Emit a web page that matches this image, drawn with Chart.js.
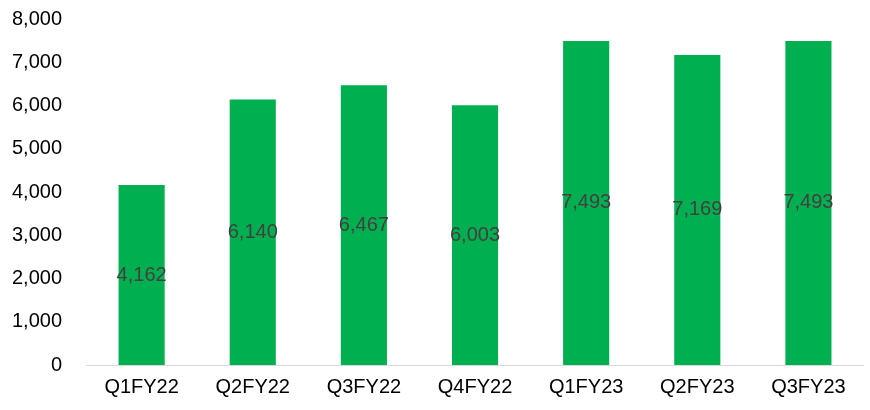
<!DOCTYPE html>
<html>
<head>
<meta charset="utf-8">
<script src="https://cdn.jsdelivr.net/npm/chart.js@4/dist/chart.umd.min.js"></script>
<style>
  html, body { margin: 0; padding: 0; background: #fff; overflow: hidden; }
  #page { width: 870px; height: 410px; position: relative; overflow: hidden; }
  #wrap { position: absolute; left: -12px; top: -17px; width: 876px; height: 426px; }
</style>
</head>
<body>
<div id="page"><div id="wrap"><canvas id="myChart"></canvas></div></div>
<script>
const quarters = ['Q1FY22', 'Q2FY22', 'Q3FY22', 'Q4FY22', 'Q1FY23', 'Q2FY23', 'Q3FY23'];
const values = [4162, 6140, 6467, 6003, 7493, 7169, 7493];
const yTicks = [0, 1000, 2000, 3000, 4000, 5000, 6000, 7000, 8000];

const fmt = v => v.toLocaleString('en-US');

// draw value labels in the middle of each bar
const midLabels = {
    id: 'midLabels',
    afterDatasetsDraw(chart) {
        const c = chart.ctx;
        const meta = chart.getDatasetMeta(0);
        c.save();
        c.font = '20px "Liberation Sans", Arial, sans-serif';
        c.fillStyle = '#404040';
        c.textAlign = 'center';
        c.textBaseline = 'middle';
        meta.data.forEach((bar, i) => {
            c.fillText(fmt(values[i]), bar.x, (bar.y + bar.base) / 2);
        });
        c.restore();
    }
};

const ctx = document.getElementById('myChart').getContext('2d');

const myChart = new Chart(ctx, {
    type: 'bar',
    data: {
        labels: quarters,
        datasets: [{
            data: values,
            backgroundColor: '#00B050',
            categoryPercentage: 1,
            barPercentage: 0.415
        }]
    },
    options: {
        responsive: true,
        maintainAspectRatio: false,
        animation: false,
        layout: { padding: 0 },
        plugins: {
            legend: { display: false },
            tooltip: { enabled: false }
        },
        scales: {
            x: {
                grid: { display: false, drawTicks: false },
                border: { display: true, color: '#d9d9d9', width: 1 },
                ticks: {
                    color: '#000',
                    padding: 10,
                    font: { family: '"Liberation Sans", Arial, sans-serif', size: 20 }
                }
            },
            y: {
                min: 0,
                max: 8000,
                afterBuildTicks: axis => { axis.ticks = yTicks.map(v => ({ value: v })); },
                grid: { display: false, drawTicks: false },
                border: { display: false },
                ticks: {
                    color: '#000',
                    padding: 24,
                    callback: v => fmt(v),
                    font: { family: '"Liberation Sans", Arial, sans-serif', size: 20 }
                }
            }
        }
    },
    plugins: [midLabels]
});
</script>
</body>
</html>
